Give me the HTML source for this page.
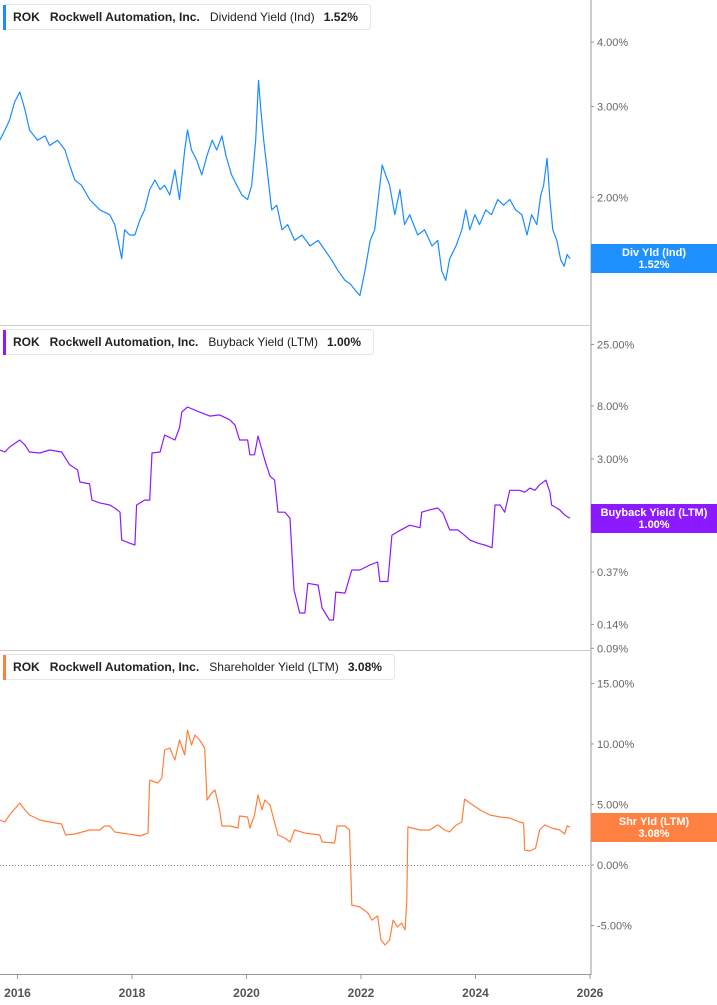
<!DOCTYPE html>
<html><head><meta charset="utf-8"><style>
html,body{margin:0;padding:0;background:#fff;}
svg{display:block;font-family:"Liberation Sans",sans-serif;}
</style></head><body>
<svg id="chart" width="717" height="1005" viewBox="0 0 717 1005" xmlns="http://www.w3.org/2000/svg"></svg>
<script>
const divDates=[2015.69,2015.78,2015.86,2015.95,2016.04,2016.13,2016.21,2016.35,2016.48,2016.56,2016.70,2016.83,2016.91,2017.00,2017.12,2017.26,2017.44,2017.61,2017.70,2017.82,2017.87,2017.96,2018.05,2018.14,2018.22,2018.31,2018.40,2018.49,2018.57,2018.66,2018.75,2018.83,2018.92,2018.97,2019.04,2019.13,2019.22,2019.31,2019.40,2019.48,2019.57,2019.64,2019.74,2019.83,2019.92,2020.02,2020.09,2020.16,2020.21,2020.25,2020.30,2020.37,2020.44,2020.53,2020.62,2020.72,2020.84,2020.97,2021.11,2021.25,2021.37,2021.49,2021.60,2021.72,2021.81,2021.90,2021.98,2022.07,2022.16,2022.24,2022.30,2022.37,2022.43,2022.50,2022.59,2022.68,2022.76,2022.85,2022.99,2023.11,2023.24,2023.34,2023.41,2023.48,2023.55,2023.66,2023.76,2023.83,2023.90,2023.99,2024.07,2024.18,2024.28,2024.39,2024.49,2024.60,2024.70,2024.81,2024.90,2024.98,2025.07,2025.14,2025.19,2025.25,2025.30,2025.35,2025.42,2025.49,2025.55,2025.60,2025.65];
const divVals=[2.58,2.70,2.82,3.06,3.20,2.96,2.70,2.58,2.63,2.52,2.58,2.47,2.31,2.16,2.11,1.98,1.89,1.85,1.77,1.52,1.73,1.69,1.69,1.81,1.89,2.07,2.16,2.07,2.11,2.02,2.26,1.98,2.47,2.70,2.47,2.36,2.21,2.41,2.58,2.47,2.63,2.41,2.21,2.11,2.02,1.98,2.11,2.58,3.37,2.96,2.58,2.21,1.89,1.93,1.73,1.77,1.65,1.69,1.61,1.65,1.58,1.51,1.44,1.38,1.36,1.32,1.29,1.44,1.65,1.73,1.98,2.31,2.21,2.11,1.85,2.07,1.77,1.85,1.69,1.73,1.61,1.65,1.44,1.38,1.52,1.61,1.73,1.89,1.73,1.85,1.77,1.89,1.85,1.98,1.93,1.98,1.89,1.85,1.69,1.85,1.77,2.02,2.11,2.38,1.98,1.73,1.65,1.51,1.47,1.55,1.52];
const bbDates=[2015.69,2015.78,2015.86,2016.04,2016.13,2016.21,2016.39,2016.56,2016.77,2016.86,2016.91,2017.05,2017.09,2017.26,2017.30,2017.44,2017.61,2017.70,2017.79,2017.82,2017.96,2018.05,2018.08,2018.22,2018.31,2018.35,2018.49,2018.57,2018.75,2018.83,2018.87,2018.97,2019.18,2019.36,2019.53,2019.71,2019.80,2019.88,2020.02,2020.06,2020.14,2020.20,2020.27,2020.32,2020.41,2020.49,2020.55,2020.67,2020.76,2020.83,2020.93,2021.02,2021.07,2021.25,2021.32,2021.45,2021.52,2021.56,2021.72,2021.84,2021.98,2022.15,2022.29,2022.33,2022.47,2022.54,2022.64,2022.77,2022.85,2023.03,2023.06,2023.20,2023.34,2023.43,2023.55,2023.69,2023.81,2023.90,2024.04,2024.16,2024.29,2024.34,2024.43,2024.51,2024.60,2024.77,2024.86,2024.95,2025.04,2025.12,2025.23,2025.30,2025.33,2025.47,2025.56,2025.65];
const bbVals=[3.54,3.41,3.74,4.26,3.89,3.41,3.35,3.54,3.41,2.94,2.70,2.45,1.96,1.89,1.40,1.33,1.28,1.21,1.12,0.67,0.63,0.61,1.28,1.40,1.40,3.35,3.41,4.67,4.26,5.33,7.14,7.85,7.14,6.63,6.78,6.18,5.62,4.26,4.26,3.24,3.24,4.58,3.54,2.94,2.18,2.03,1.12,1.12,1.00,0.265,0.173,0.173,0.30,0.29,0.19,0.152,0.152,0.255,0.25,0.384,0.384,0.42,0.445,0.31,0.31,0.73,0.78,0.84,0.88,0.84,1.12,1.17,1.21,1.10,0.806,0.806,0.73,0.67,0.63,0.61,0.58,1.28,1.28,1.12,1.68,1.68,1.62,1.75,1.68,1.86,2.03,1.62,1.28,1.17,1.06,1.00];
const shrDates=[2015.69,2015.78,2015.86,2016.04,2016.13,2016.21,2016.39,2016.56,2016.77,2016.84,2017.00,2017.26,2017.44,2017.52,2017.61,2017.70,2018.05,2018.14,2018.28,2018.31,2018.45,2018.52,2018.57,2018.66,2018.75,2018.83,2018.92,2018.97,2019.04,2019.10,2019.18,2019.27,2019.31,2019.39,2019.45,2019.53,2019.57,2019.71,2019.85,2019.88,2020.02,2020.06,2020.14,2020.20,2020.27,2020.32,2020.41,2020.55,2020.67,2020.76,2020.84,2021.02,2021.28,2021.32,2021.54,2021.58,2021.72,2021.80,2021.84,2021.98,2022.12,2022.19,2022.29,2022.35,2022.42,2022.50,2022.56,2022.64,2022.71,2022.77,2022.80,2022.82,2023.03,2023.20,2023.34,2023.46,2023.55,2023.64,2023.76,2023.81,2023.90,2024.08,2024.25,2024.43,2024.60,2024.77,2024.84,2024.86,2024.95,2025.05,2025.12,2025.21,2025.33,2025.47,2025.56,2025.60,2025.65];
const shrVals=[3.72,3.55,4.13,5.12,4.55,4.13,3.72,3.55,3.39,2.48,2.56,2.89,2.89,3.22,3.22,2.73,2.48,2.40,2.64,7.02,6.78,7.19,9.50,9.67,8.68,10.33,9.09,11.16,9.92,10.74,10.33,9.67,5.37,5.95,6.20,4.55,3.22,3.22,3.06,4.05,3.97,3.06,4.13,5.79,4.55,5.37,4.96,2.48,2.23,1.90,2.89,2.64,2.48,1.90,1.82,3.22,3.22,2.89,-3.31,-3.47,-3.97,-4.55,-4.21,-6.20,-6.61,-6.20,-4.55,-5.12,-4.79,-5.37,-2.89,3.14,2.89,2.89,3.31,2.89,2.73,3.22,3.55,5.45,5.12,4.55,4.13,3.97,3.88,3.55,3.47,1.24,1.16,1.40,2.89,3.31,3.06,2.89,2.56,3.22,3.14];
const yearTicks=[2016,2018,2020,2022,2024,2026];
const divTicks=[4.00,3.00,2.00];
const bbTicks=[25.00,8.00,3.00,0.37,0.14,0.09];
const shrTicks=[15,10,5,0,-5];

const NS='http://www.w3.org/2000/svg';
const svg=document.getElementById('chart');
function el(tag,attrs,parent){const e=document.createElementNS(NS,tag);for(const k in attrs)e.setAttribute(k,attrs[k]);(parent||svg).appendChild(e);return e;}
const xScale=y=>17.5+(y-2016)*57.25;
const yDiv=v=>42-224*Math.log(v/4);
const yBb=v=>406-54*Math.log(v/8);
const yShr=v=>865-12.1*v;

let g;
g=el('line',{x1:591,y1:0,x2:591,y2:975,stroke:'#999','stroke-width':1});


[325,650].forEach(y=>{const l=el('line',{x1:0,y1:y+0.5,x2:591,y2:y+0.5,stroke:'#ccc','stroke-width':1});

});
g=el('line',{x1:0,y1:974.5,x2:591,y2:974.5,stroke:'#999','stroke-width':1});


g=el('line',{x1:0,y1:865.5,x2:591,y2:865.5,stroke:'#888','stroke-width':1,'stroke-dasharray':'1,2'});



yearTicks.forEach(yr=>{const x=xScale(yr);
const t=el('line',{x1:x,y1:974,x2:x,y2:979,stroke:'#999'});


const tx=el('text',{x:x,y:997,'text-anchor':'middle','font-size':12,'font-weight':'bold',fill:'#555'});


tx.textContent=yr;});

function yTicks(arr,scale,fmt){arr.forEach(v=>{const y=scale(v);
const t=el('line',{x1:591,y1:y,x2:594,y2:y,stroke:'#999'});


const tx=el('text',{x:597,y:y+4,'font-size':11,fill:'#666'});


tx.textContent=fmt(v);});}
yTicks(divTicks,yDiv,v=>v.toFixed(2)+'%');
yTicks(bbTicks,yBb,v=>v.toFixed(2)+'%');
yTicks(shrTicks,yShr,v=>v.toFixed(2)+'%');

function line(dates,vals,scale,color,name){let d='';dates.forEach((t,i)=>{d+=(i?'L':'M')+xScale(t).toFixed(1)+','+scale(vals[i]).toFixed(1);});
const p=el('path',{d:d,fill:'none',stroke:color,'stroke-width':1.2,'stroke-linejoin':'round'});

}
line(divDates,divVals,yDiv,'#1a8cff','dividend-yield-line');
line(bbDates,bbVals,yBb,'#8c1aff','buyback-yield-line');
line(shrDates,shrVals,yShr,'#ff7f3f','shareholder-yield-line');

function badge(y,color,l1,l2,name){const b=el('g',{});


el('rect',{x:591,y:y-14,width:126,height:29,fill:color},b);
const a=el('text',{x:654,y:y-2,'text-anchor':'middle','font-size':11,'font-weight':'bold',fill:'#fff'},b);a.textContent=l1;
const c=el('text',{x:654,y:y+10,'text-anchor':'middle','font-size':11,'font-weight':'bold',fill:'#fff'},b);c.textContent=l2;}
badge(258,'#1e90ff','Div Yld (Ind)','1.52%','div-yield-badge');
badge(518,'#8c1aff','Buyback Yield (LTM)','1.00%','buyback-yield-badge');
badge(827,'#ff8040','Shr Yld (LTM)','3.08%','shr-yield-badge');

function legend(y,w,color,metric,val,name){const b=el('g',{});


el('rect',{x:3.5,y:y+0.5,width:w,height:25,rx:3,fill:'#fff',stroke:'#e6e6e6'},b);
el('rect',{x:3,y:y+1,width:3,height:25,fill:color},b);
const t=el('text',{x:13,y:y+17,'font-size':12,fill:'#222','font-weight':'bold'},b);
t.innerHTML='ROK<tspan dx="10">Rockwell Automation, Inc.</tspan><tspan dx="10" font-weight="normal">'+metric+'</tspan><tspan dx="9">'+val+'</tspan>';
t.setAttribute('textLength',w-22);t.setAttribute('lengthAdjust','spacingAndGlyphs');}
legend(4,367,'#1a8cff','Dividend Yield (Ind)','1.52%','dividend-legend');
legend(329,370,'#8c1aff','Buyback Yield (LTM)','1.00%','buyback-legend');
legend(654,391,'#ff7f3f','Shareholder Yield (LTM)','3.08%','shareholder-legend');
</script>
</body></html>
